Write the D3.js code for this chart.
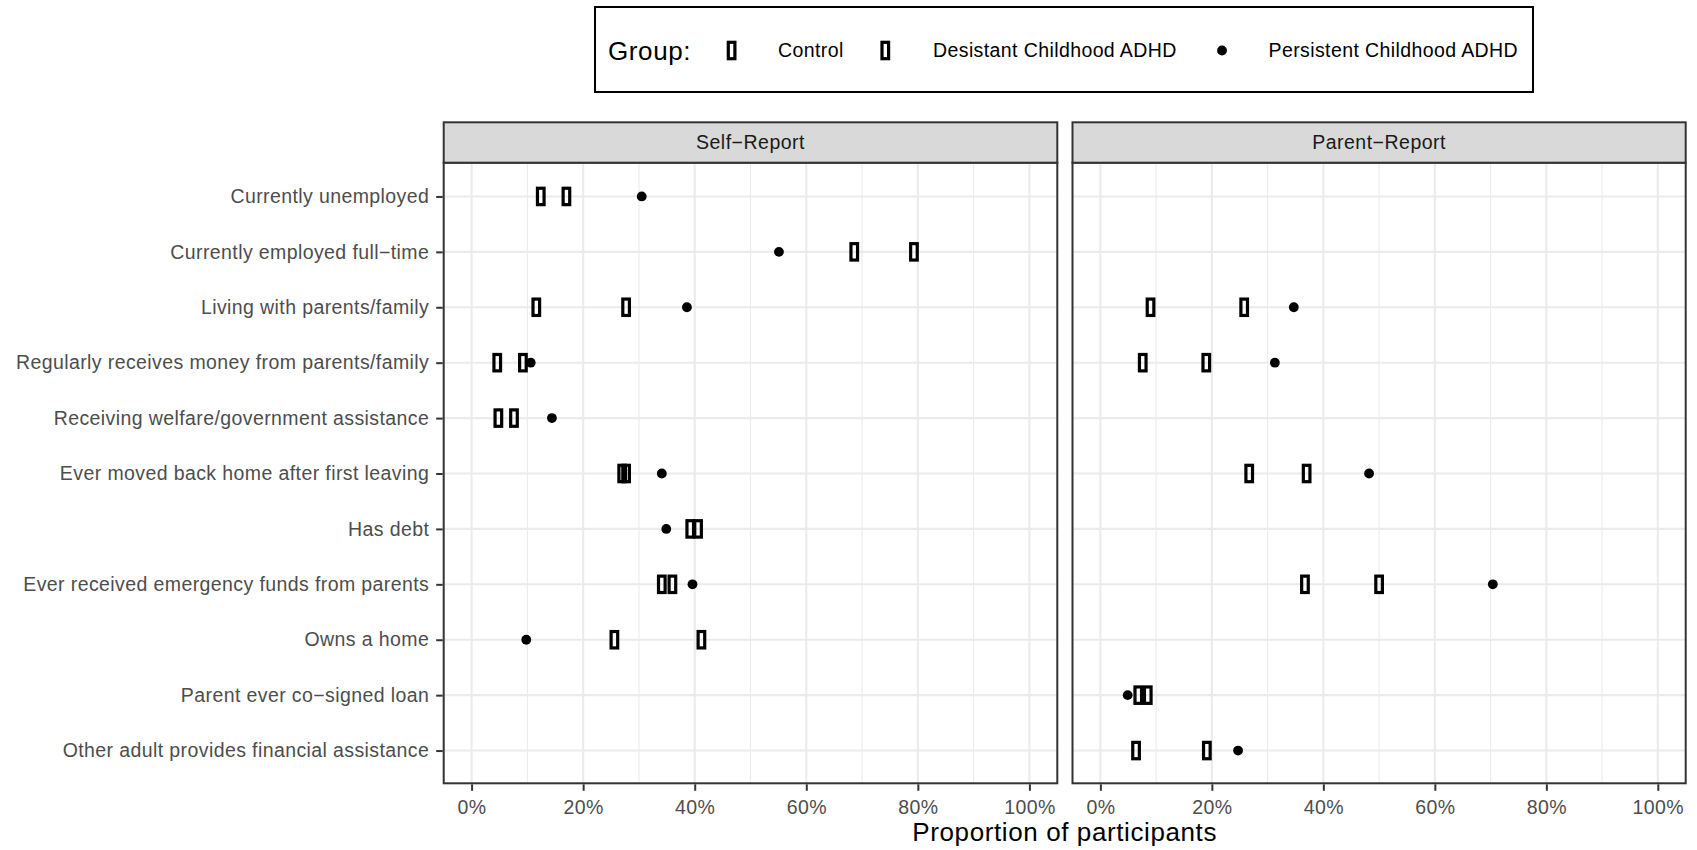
<!DOCTYPE html>
<html>
<head>
<meta charset="utf-8">
<script src="https://cdn.jsdelivr.net/npm/d3@7/dist/d3.min.js"></script>
<style>
  html, body { margin: 0; padding: 0; background: #ffffff; }
  svg { display: block; }
  text { font-family: "Liberation Sans", Arial, sans-serif; }
</style>
</head>
<body>
<svg id="chart" width="1697" height="850"></svg>
<script>
// ---------------- data ----------------
const categories = [
  "Currently unemployed",
  "Currently employed full\u2212time",
  "Living with parents/family",
  "Regularly receives money from parents/family",
  "Receiving welfare/government assistance",
  "Ever moved back home after first leaving",
  "Has debt",
  "Ever received emergency funds from parents",
  "Owns a home",
  "Parent ever co\u2212signed loan",
  "Other adult provides financial assistance"
];
const panels = ["Self\u2212Report", "Parent\u2212Report"];
const groups = ["Control", "Desistant Childhood ADHD", "Persistent Childhood ADHD"];
const groupShapes = ["box", "box", "dot"];

// values in percent, null = not reported
const selfControl      = [12.4, 79.3, 11.6, 4.6, 4.8, 27.0, 39.2, 34.1, 41.2, null, null];
const selfDesistant    = [17.0, 68.6, 27.7, 9.2, 7.6, 27.7, 40.6, 36.0, 25.6, null, null];
const selfPersistent   = [30.5, 55.1, 38.6, 10.6, 14.4, 34.1, 34.9, 39.6, 9.8, null, null];
const parentControl    = [null, null, 9.0, 7.6, null, 26.7, null, 36.7, null, 6.8, 6.4];
const parentDesistant  = [null, null, 25.8, 19.0, null, 37.0, null, 50.0, null, 8.5, 19.1];
const parentPersistent = [null, null, 34.7, 31.3, null, 48.2, null, 70.4, null, 4.9, 24.7];

const xTicks = [0, 20, 40, 60, 80, 100];
const xMinor = [10, 30, 50, 70, 90];
const legendTitle = "Group:";
const axisTitle = "Proportion of participants";

const panelSeries = [
  [selfControl, selfDesistant, selfPersistent],
  [parentControl, parentDesistant, parentPersistent]
];

// ---------------- layout ----------------
const svg = d3.select("#chart");
const panelBox = [
  { left: 443.7, right: 1057.3 },
  { left: 1072.5, right: 1685.7 }
];
const stripTop = 122.3, panelTop = 162.7, panelBottom = 783.3;
const gridCol = "#ebebeb", darkCol = "#333333";
const fontMain = 19.5, spacing = 0.4;

const y = d3.scalePoint().domain(categories).range([panelTop + 0.5, panelBottom + 0.5]).padding(0.6);

function drawBox(g, cx, cy) {
  g.append("rect")
    .attr("x", cx - 3.3).attr("y", cy - 8.2)
    .attr("width", 6.6).attr("height", 16.4)
    .attr("fill", "none").attr("stroke", "#000").attr("stroke-width", 3.2);
}
function drawDot(g, cx, cy) {
  g.append("circle").attr("cx", cx).attr("cy", cy).attr("r", 4.9).attr("fill", "#000");
}

panels.forEach((pname, pi) => {
  const pb = panelBox[pi];
  const x = d3.scaleLinear().domain([-5, 105]).range([pb.left, pb.right]);
  const g = svg.append("g");

  g.append("rect").attr("x", pb.left).attr("y", panelTop)
    .attr("width", pb.right - pb.left).attr("height", panelBottom - panelTop)
    .attr("fill", "#fff");

  g.selectAll(".minor").data(xMinor).enter().append("line")
    .attr("x1", d => x(d)).attr("x2", d => x(d))
    .attr("y1", panelTop).attr("y2", panelBottom)
    .attr("stroke", gridCol).attr("stroke-width", 1.1);
  g.selectAll(".majorx").data(xTicks).enter().append("line")
    .attr("x1", d => x(d)).attr("x2", d => x(d))
    .attr("y1", panelTop).attr("y2", panelBottom)
    .attr("stroke", gridCol).attr("stroke-width", 2.1);
  g.selectAll(".majory").data(categories).enter().append("line")
    .attr("x1", pb.left).attr("x2", pb.right)
    .attr("y1", d => y(d)).attr("y2", d => y(d))
    .attr("stroke", gridCol).attr("stroke-width", 2.1);

  const series = panelSeries[pi];
  const order = [2, 0, 1];
  order.forEach(si => {
    const vals = series[si];
    vals.forEach((v, i) => {
      if (v === null) return;
      const cx = x(v), cy = y(categories[i]);
      if (groupShapes[si] === "dot") drawDot(g, cx, cy); else drawBox(g, cx, cy);
    });
  });

  g.append("rect").attr("x", pb.left).attr("y", panelTop)
    .attr("width", pb.right - pb.left).attr("height", panelBottom - panelTop)
    .attr("fill", "none").attr("stroke", darkCol).attr("stroke-width", 2);

  g.append("rect").attr("x", pb.left).attr("y", stripTop)
    .attr("width", pb.right - pb.left).attr("height", panelTop - stripTop)
    .attr("fill", "#d9d9d9").attr("stroke", darkCol).attr("stroke-width", 2);
  g.append("text").attr("x", (pb.left + pb.right) / 2).attr("y", (stripTop + panelTop) / 2)
    .attr("dy", "0.35em").attr("text-anchor", "middle")
    .attr("font-size", fontMain).attr("letter-spacing", 0.5).attr("fill", "#1a1a1a")
    .text(pname);

  const xAxis = d3.axisBottom(x).tickValues(xTicks).tickSize(6.5).tickPadding(9)
    .tickFormat(d => d + "%");
  const ax = g.append("g").attr("transform", `translate(0,${panelBottom + 1})`).call(xAxis);
  ax.select(".domain").remove();
  ax.selectAll(".tick line").attr("stroke", darkCol).attr("stroke-width", 2);
  ax.selectAll(".tick text").attr("fill", "#4d4d4d").attr("font-size", fontMain)
    .attr("letter-spacing", spacing).attr("font-family", "Liberation Sans, Arial, sans-serif");

  if (pi === 0) {
    const yAxis = d3.axisLeft(y).tickSize(6.5).tickPadding(7);
    const ay = g.append("g").attr("transform", `translate(${pb.left - 1},0)`).call(yAxis);
    ay.select(".domain").remove();
    ay.selectAll(".tick line").attr("stroke", darkCol).attr("stroke-width", 2);
    ay.selectAll(".tick text").attr("fill", "#4d4d4d").attr("font-size", fontMain)
      .attr("letter-spacing", spacing).attr("font-family", "Liberation Sans, Arial, sans-serif");
  }
});

svg.append("text").attr("x", (panelBox[0].left + panelBox[1].right) / 2).attr("y", 832)
  .attr("dy", "0.35em").attr("text-anchor", "middle")
  .attr("font-size", 26).attr("letter-spacing", 0.6).attr("fill", "#000")
  .text(axisTitle);

const lg = svg.append("g");
lg.append("rect").attr("x", 595).attr("y", 7).attr("width", 938).attr("height", 85)
  .attr("fill", "#fff").attr("stroke", "#000").attr("stroke-width", 2);
const legY = 50.5;
lg.append("text").attr("x", 608).attr("y", legY).attr("dy", "0.35em")
  .attr("font-size", 26).attr("letter-spacing", 0.6).attr("fill", "#000").text(legendTitle);
const legMarkX = [731.6, 885.3, 1222];
const legTextX = [778, 933, 1268.5];
groups.forEach((gname, i) => {
  if (groupShapes[i] === "dot") drawDot(lg, legMarkX[i], legY); else drawBox(lg, legMarkX[i], legY);
  lg.append("text").attr("x", legTextX[i]).attr("y", legY).attr("dy", "0.35em")
    .attr("font-size", fontMain).attr("letter-spacing", spacing).attr("fill", "#000").text(gname);
});
</script>
</body>
</html>
